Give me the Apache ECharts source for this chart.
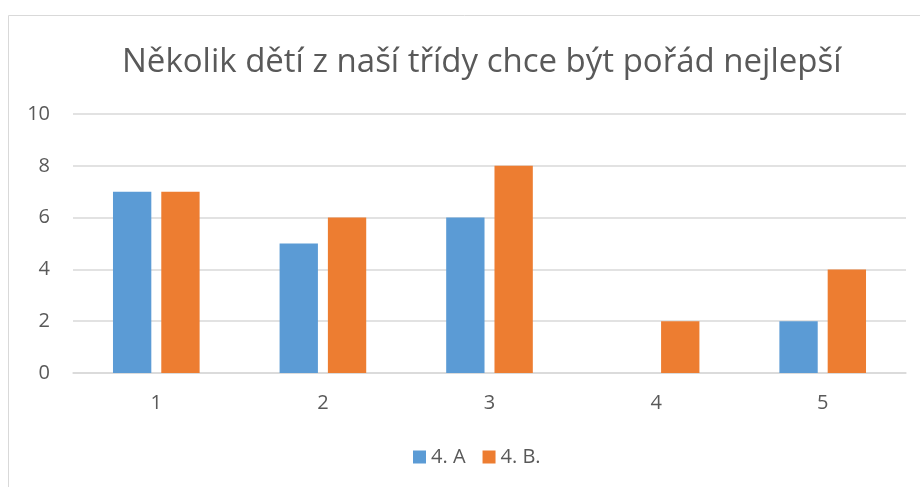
<!DOCTYPE html>
<html><head><meta charset="utf-8">
<script src="https://cdn.jsdelivr.net/npm/echarts@6/dist/echarts.min.js"></script>
<style>html,body{margin:0;padding:0;background:#fff}#c{width:920px;height:487px}</style>
</head><body><div id="c"></div>
<script>
const titleText = "Několik dětí z naší třídy chce být pořád nejlepší";
const categories = ["1", "2", "3", "4", "5"];
const seriesNames = ["4. A", "4. B."];
const valuesA = [7, 5, 6, 0, 2];
const valuesB = [7, 6, 8, 2, 4];
const yTicks = { min: 0, max: 10, interval: 2 };

const font = "Open Sans, Noto Sans, sans-serif";
const chart = echarts.init(document.getElementById('c'));
chart.setOption({
  animation: false,
  textStyle: { fontFamily: font },
  graphic: [{ type: 'rect', shape: { x: 8.5, y: 15.5, width: 1000, height: 1000 }, style: { fill: 'none', stroke: '#d9d9d9', lineWidth: 1 }, z: -1 }],
  title: { text: titleText, left: 117, top: 41, textStyle: { fontFamily: font, fontSize: 33, fontWeight: 'normal', color: '#595959' } },
  grid: { left: 73, right: 14, top: 114, bottom: 114 },
  legend: { bottom: 15, left: 408, itemWidth: 13, itemHeight: 13, itemGap: 17, icon: 'rect', textStyle: { fontSize: 20, color: '#595959', fontFamily: font } },
  xAxis: { type: 'category', data: categories, axisTick: { show: false }, axisLine: { lineStyle: { color: '#d9d9d9', width: 1.5 } }, axisLabel: { fontSize: 20, color: '#595959', margin: 20 } },
  yAxis: { type: 'value', min: yTicks.min, max: yTicks.max, interval: yTicks.interval, splitLine: { lineStyle: { color: '#d9d9d9', width: 1.5 } }, axisLabel: { fontSize: 20, color: '#595959', margin: 23 } },
  series: [
    { name: seriesNames[0], type: 'bar', data: valuesA, itemStyle: { color: '#5b9bd5' }, barGap: '26%', barCategoryGap: '48%' },
    { name: seriesNames[1], type: 'bar', data: valuesB, itemStyle: { color: '#ed7d31' }, barGap: '26%', barCategoryGap: '48%' }
  ]
});
</script></body></html>
